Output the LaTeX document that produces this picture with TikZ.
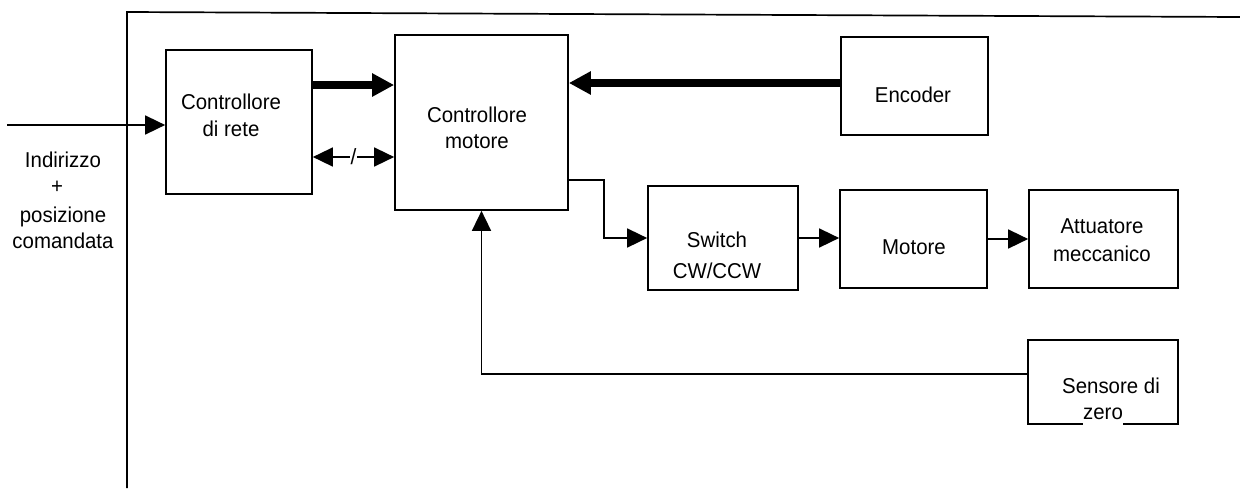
\documentclass[tikz,border=0pt]{standalone}
\usepackage{fontspec}
\setmainfont{Liberation Sans}[FakeStretch=0.95]
\usetikzlibrary{arrows.meta}
\begin{document}
\begin{tikzpicture}[x=1pt,y=-1pt,
  box/.style={draw, line width=1.7pt, inner sep=0pt},
  txt/.style={inner sep=0pt, anchor=base, font=\fontsize{21.5}{27}\selectfont},
  thinarrow/.style={line width=1.6pt, -{Triangle[length=20pt,width=19pt]}},
  thickarrow/.style={line width=7.5pt, -{Triangle[length=22pt,width=22pt]}},
  framestyle/.style={line width=1.7pt}]
\useasboundingbox (0,0) rectangle (1240,488);

% outer frame
\coordinate (ftl) at (127,12);
\coordinate (ftr) at (1240,17);
\coordinate (fbl) at (127,488);
\draw[framestyle] (ftr) -- (ftl) -- (fbl);

% boxes
\node[box, minimum width=146pt, minimum height=144pt] (rete) at (239,122) {};
\node[box, minimum width=173pt, minimum height=175pt] (mc) at (481.5,122.5) {};
\node[box, minimum width=147pt, minimum height=98pt] (enc) at (914.5,86) {};
\node[box, minimum width=150pt, minimum height=104pt] (sw) at (723,238) {};
\node[box, minimum width=147pt, minimum height=98pt] (mot) at (913.5,239) {};
\node[box, minimum width=149pt, minimum height=98pt] (att) at (1103.5,239) {};
\node[inner sep=0pt, minimum width=150pt, minimum height=84pt] (sen) at (1103,382) {};
\draw[line width=1.7pt] ([xshift=55pt]sen.south west) -- (sen.south west) -- (sen.north west)
  -- (sen.north east) -- (sen.south east) -- ([xshift=-55pt]sen.south east);

% texts
\node[txt] (t1) at (231,109) {Controllore};
\node[txt] (t2) at (231,136) {di rete};
\node[txt] (t3) at (477,122) {Controllore};
\node[txt] (t4) at (477,148) {motore};
\node[txt] (t5) at (913,102) {Encoder};
\node[txt] (t6) at (717,247) {Switch};
\node[txt] (t7) at (717,278) {CW/CCW};
\node[txt] (t8) at (914,254) {Motore};
\node[txt] (t9) at (1102,233) {Attuatore};
\node[txt] (t10) at (1102,261) {meccanico};
\node[txt] (t11) at (1111,393) {Sensore di};
\node[txt] (t12) at (1103,419) {zero};
\node[txt] (l1) at (63,167) {Indirizzo};
\node[txt] (l2) at (57,193) {+};
\node[txt] (l3) at (63,222) {posizione};
\node[txt] (l4) at (63,248) {comandata};

% connectors
\coordinate (in) at (7,125);
\draw[thinarrow] (in) -- (in -| rete.west);

\coordinate (a1) at ([yshift=37pt]rete.east);
\draw[thickarrow] (a1) -- (a1 -| mc.west);

\coordinate (a2) at ([yshift=-35pt]rete.east);
\draw[line width=1.6pt, {Triangle[length=20pt,width=19pt]}-{Triangle[length=20pt,width=19pt]}]
  (a2) -- node[fill=white, inner sep=1pt, font=\fontsize{22}{24}\selectfont] (sl) {/} (a2 -| mc.west);

\coordinate (e1) at ([yshift=3pt]enc.west);
\draw[thickarrow] (e1) -- (e1 -| mc.east);

\coordinate (b1) at ([yshift=-57.5pt]mc.east);
\draw[thinarrow] (b1) -- ++(35,0) |- (sw.west);

\draw[thinarrow] (sw.east) -- (sw.east -| mot.west);
\draw[thinarrow] (mot.east) -- (att.west);

\coordinate (c1) at ([yshift=8pt]sen.west);
\draw[thinarrow] (c1) -| (mc.south);
\end{tikzpicture}
\end{document}
